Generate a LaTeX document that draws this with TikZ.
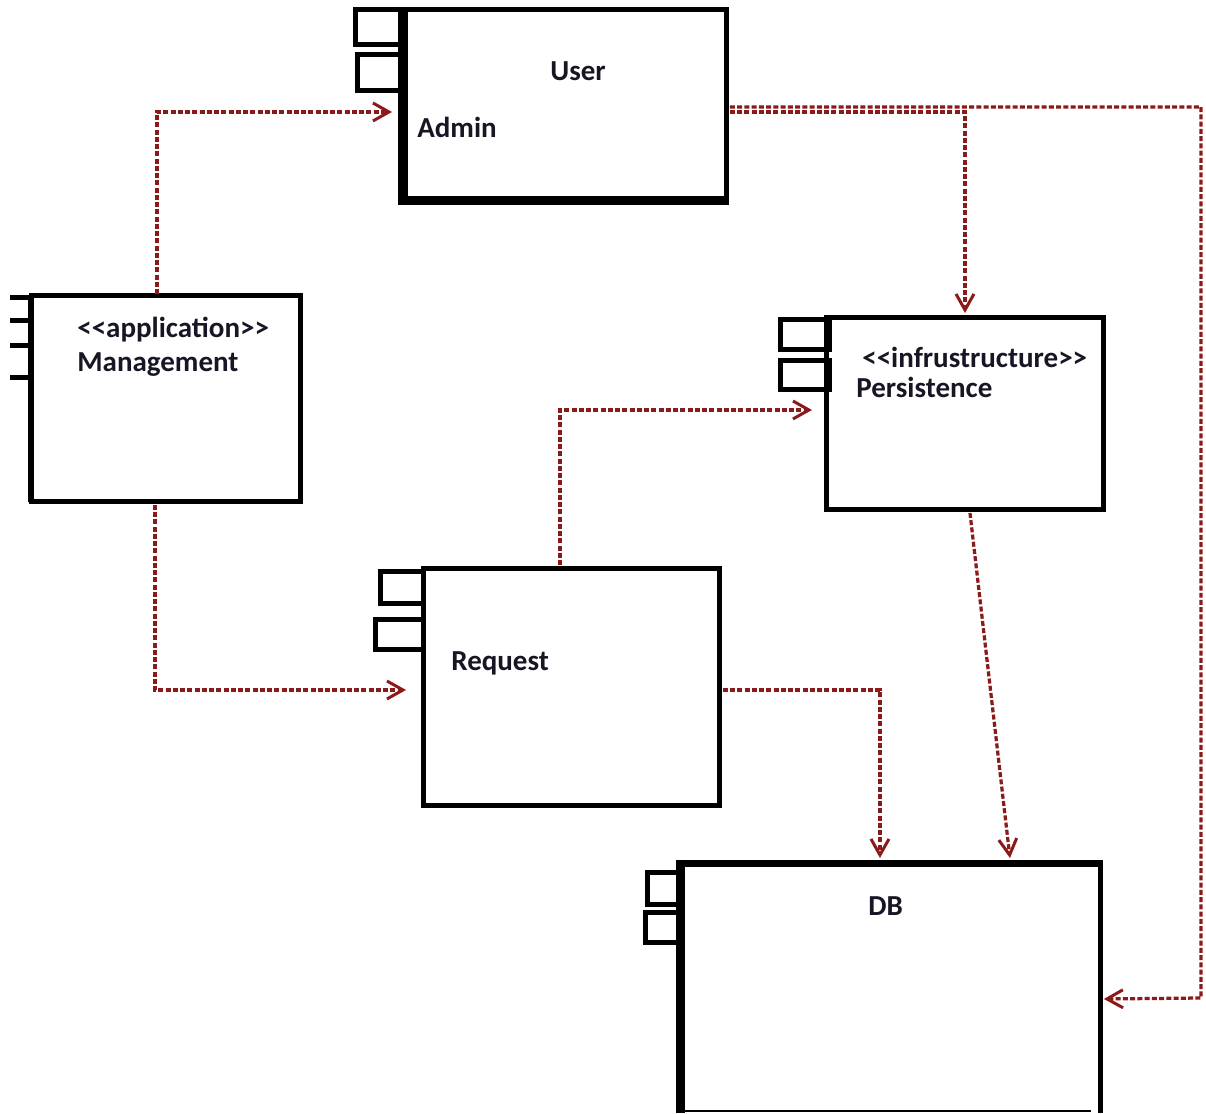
\documentclass[tikz,border=0pt]{standalone}
\usepackage{fontspec}
\newfontfamily\lbl{Carlito}
\usetikzlibrary{arrows.meta}
\definecolor{deprd}{RGB}{140,26,26}
\definecolor{txtc}{RGB}{22,22,36}
\tikzset{
  comp/.style={draw=black, line width=0.1cm, rectangle, inner sep=0pt, outer sep=0pt, anchor=north west},
  tabbox/.style={draw=black, line width=0.1cm, fill=white},
  tabline/.style={draw=black, line width=0.1cm},
  lbltxt/.style={inner sep=0pt, anchor=base west, text=txtc, font=\lbl\bfseries\fontsize{16.5}{20}\selectfont},
  dep/.style={draw=deprd, line width=0.065cm, dash pattern=on 0.1cm off 0.045cm,
    -{Straight Barb[length=0.32cm, width=0.36cm, line width=0.06cm]}}
}
\begin{document}
\begin{tikzpicture}[x=0.02cm, y=-0.02cm]
\useasboundingbox (0,0) rectangle (1206,1114);
\fill[white] (0,0) rectangle (1206,1114);
% tabs
\draw[tabbox] (355.5,9.5) rectangle (400,44.5);
\draw[tabbox] (357.5,54.5) rectangle (400,90.5);
\draw[tabline] (10,297.5) -- (31,297.5) (10,320.5) -- (31,320.5);
\draw[tabline] (10,345.5) -- (31,345.5) (10,377.5) -- (31,377.5);
\draw[tabbox] (780.5,319.5) rectangle (829.5,349.5);
\draw[tabbox] (780.5,360.5) rectangle (829.5,389.5);
\draw[tabbox] (380.5,571.5) rectangle (423,603.5);
\draw[tabbox] (375.5,619.5) rectangle (423,649.5);
\draw[tabbox] (647.5,872.5) rectangle (680,904.5);
\draw[tabbox] (645.5,912.5) rectangle (680,942.5);
% component boxes
\node[comp, minimum width=6.48cm, minimum height=3.82cm] (user) at (403,10) {};
\node[comp, minimum width=5.4cm, minimum height=4.12cm] (mgmt) at (31,296) {};
\node[comp, minimum width=5.56cm, minimum height=3.84cm] (pers) at (826,318) {};
\node[comp, minimum width=5.94cm, minimum height=4.76cm] (req) at (423,568) {};
\node[comp, draw=none, minimum width=8.42cm, minimum height=4.96cm] (db) at (680,863) {};
% heavier edges
\draw[line width=0.2cm] (user.north west) -- (user.south west);
\draw[line width=0.18cm] ([shift={(-5,0)}]user.south west) -- ([shift={(2.5,0)}]user.south east);
\draw[line width=0.14cm] (mgmt.north west) -- (mgmt.south west);
\draw[line width=0.18cm] ([shift={(0,-3.5)}]db.north west) -- ([shift={(0,2)}]db.south west);
\draw[line width=0.14cm] ([shift={(-4.5,0)}]db.north west) -- ([shift={(2.5,0)}]db.north east);
\draw[line width=0.1cm] ([shift={(0,-3.5)}]db.north east) -- ([shift={(0,2)}]db.south east);
\draw[line width=0.05cm] (db.south west) -- ([shift={(-10,0)}]db.south east);
% labels
\node[lbltxt] (tuser) at (550,81) {User};
\node[lbltxt] (tadmin) at (417,138) {Admin};
\node[lbltxt] (tapp) at (77,338) {<<application>>};
\node[lbltxt] (tmgmt) at (77,372) {Management};
\node[lbltxt] (tinfr) at (862,368) {<<infrustructure>>};
\node[lbltxt] (tpers) at (856,398) {Persistence};
\node[lbltxt] (treq) at (451,670) {Request};
\node[lbltxt] (tdb) at (868,915) {DB};
% connectors
\coordinate (rc) at (1201,998);
\draw[dep] ([shift={(-9,-2)}]mgmt.north) |- ([shift={(-11,6.5)}]user.west);
\draw[dep] ([shift={(-11,3)}]mgmt.south) |- ([shift={(-17,3)}]req.west);
\draw[dep] ([shift={(-11.5,-3)}]req.north) |- ([shift={(-14,-4)}]pers.west);
\draw[dep] ([shift={(3,6.5)}]user.east) -| ([shift={(0,-5)}]pers.north);
\draw[dep] ([shift={(3,1.5)}]user.east) -| (rc) -- ([shift={(3,12)}]db.east);
\draw[dep] ([shift={(3,3)}]req.east) -| ([shift={(-10.5,-5)}]db.north);
\draw[dep] ([shift={(5,3)}]pers.south) -- ([shift={(119.5,-5)}]db.north);
\end{tikzpicture}
\end{document}
